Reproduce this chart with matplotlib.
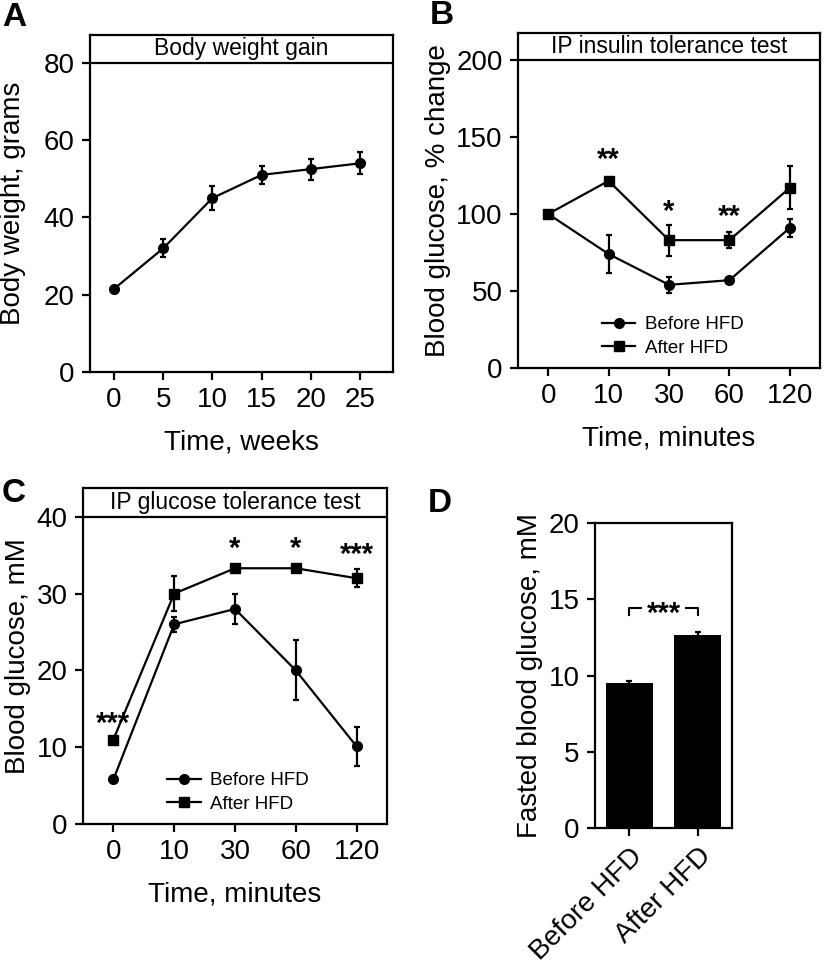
import matplotlib
matplotlib.use("Agg")
import matplotlib.pyplot as plt
import matplotlib.transforms as mtransforms
from matplotlib.lines import Line2D

plt.rcParams['font.family'] = ['Liberation Sans', 'DejaVu Sans']

# --- data ---
weeks = [0, 5, 10, 15, 20, 25]
body_weight = [21.5, 32.0, 45.0, 51.0, 52.5, 54.0]
body_weight_err = [0.0, 2.3, 3.0, 2.3, 2.7, 2.8]

itt_times = ["0", "10", "30", "60", "120"]
itt_before = [100, 74, 54, 57, 91]
itt_before_err = [0, 12.5, 5, 1, 6]
itt_after = [100, 121.5, 83, 83, 117]
itt_after_err = [0, 1, 10, 5, 14]
itt_stars = ["", "**", "*", "**", ""]
itt_star_y = [0, 135, 101, 98, 0]

gtt_times = ["0", "10", "30", "60", "120"]
gtt_before = [5.8, 26.0, 28.0, 20.0, 10.1]
gtt_before_err = [0, 1.0, 1.9, 3.9, 2.5]
gtt_after = [11.0, 30.0, 33.3, 33.3, 32.0]
gtt_after_err = [0, 2.3, 0, 0, 1.2]
gtt_stars = ["***", "", "*", "*", "***"]
gtt_star_y = [13.0, 0, 35.8, 35.8, 35.0]

groups = ["Before HFD", "After HFD"]
fasted = [9.5, 12.65]
fasted_err = [0.15, 0.2]

W, H = 825, 968
fig = plt.figure(figsize=(W / 100, H / 100), dpi=100)

TICK = 20
LW = 1.6


def make_axes(l, r, t, b):
    ax = fig.add_axes([l / W, 1 - b / H, (r - l) / W, (b - t) / H])
    for s in ax.spines.values():
        s.set_linewidth(LW)
    ax.tick_params(direction='out', length=6, width=LW, labelsize=TICK, pad=5)
    return ax


def header(ax, y0, text):
    ax.axhline(y0, color='black', lw=LW)
    ytop = ax.get_ylim()[1]
    trans = mtransforms.blended_transform_factory(ax.transAxes, ax.transData)
    ax.text(0.5, (y0 + ytop) / 2, text, transform=trans, ha='center',
            va='center', fontsize=16.5)


def legend(ax, anchor):
    handles = [Line2D([], [], color='black', lw=1.6, marker='o', ms=7),
               Line2D([], [], color='black', lw=1.6, marker='s', ms=7.5)]
    ax.legend(handles, ["Before HFD", "After HFD"], loc='lower left',
              bbox_to_anchor=anchor, frameon=False, fontsize=13.5,
              handlelength=1.8, handletextpad=0.5, labelspacing=0.35,
              borderaxespad=0.2)


# Panel A
axA = make_axes(90, 393, 35, 372)
axA.errorbar(weeks, body_weight, yerr=body_weight_err, color='black', lw=1.6,
             marker='o', ms=7, capsize=2.5, elinewidth=1.6, capthick=1.6)
axA.set_xlim(-2.44, 28.35)
axA.set_ylim(0, 87.2)
axA.set_xticks(weeks)
axA.set_yticks([0, 20, 40, 60, 80])
axA.set_xlabel("Time, weeks", fontsize=TICK, labelpad=12)
axA.set_ylabel("Body weight, grams", fontsize=TICK, labelpad=13)
header(axA, 80, "Body weight gain")


def tolerance(ax, cats, before, be, after, ae, stars, star_y):
    x = list(range(len(cats)))
    ax.errorbar(x, before, yerr=be, color='black', lw=1.6, marker='o', ms=7,
                capsize=2.5, elinewidth=1.6, capthick=1.6)
    ax.errorbar(x, after, yerr=ae, color='black', lw=1.6, marker='s', ms=7.5,
                capsize=2.5, elinewidth=1.6, capthick=1.6)
    for xi, s, yy in zip(x, stars, star_y):
        if s:
            ax.text(xi, yy, s, ha='center', va='center', fontsize=21,
                    fontweight='bold')
    ax.set_xlim(-0.5, 4.5)
    ax.set_xticks(x)
    ax.set_xticklabels(cats)
    ax.set_xlabel("Time, minutes", fontsize=TICK, labelpad=12)


# Panel B
axB = make_axes(518, 820, 33, 368)
tolerance(axB, itt_times, itt_before, itt_before_err, itt_after, itt_after_err,
          itt_stars, itt_star_y)
axB.set_ylim(0, 217.5)
axB.set_yticks([0, 50, 100, 150, 200])
axB.set_ylabel("Blood glucose, % change", fontsize=TICK, labelpad=4)
header(axB, 200, "IP insulin tolerance test")
legend(axB, (0.24, 0.0))

# Panel C
axC = make_axes(83, 387, 488, 824)
tolerance(axC, gtt_times, gtt_before, gtt_before_err, gtt_after, gtt_after_err,
          gtt_stars, gtt_star_y)
axC.set_ylim(0, 43.75)
axC.set_yticks([0, 10, 20, 30, 40])
axC.set_ylabel("Blood glucose, mM", fontsize=TICK, labelpad=4)
header(axC, 40, "IP glucose tolerance test")
legend(axC, (0.24, 0.0))

# Panel D
axD = make_axes(595, 732, 523, 828)
xs = range(len(groups))
axD.bar(xs, fasted, width=0.68, color='black', yerr=fasted_err,
        error_kw=dict(ecolor='black', elinewidth=1.6, capsize=2.5, capthick=1.6))
axD.set_xlim(-0.5, 1.5)
axD.set_ylim(0, 20)
axD.set_yticks([0, 5, 10, 15, 20])
axD.set_xticks(list(xs))
axD.set_xticklabels(groups, rotation=45, ha='right', rotation_mode='anchor')
axD.set_ylabel("Fasted blood glucose, mM", fontsize=TICK, labelpad=4)
by = 14.4
axD.plot([0, 0, 0.17], [13.95, by, by], color='black', lw=1.5)
axD.plot([0.83, 1, 1], [by, by, 13.95], color='black', lw=1.5)
axD.text(0.5, by - 0.35, "***", ha='center', va='center', fontsize=21,
         fontweight='bold')

# panel letters
for lab, px, py in [("A", 2, 18), ("B", 430, 16), ("C", 2, 494), ("D", 428, 504)]:
    fig.text(px / W, 1 - py / H, lab, fontsize=24, fontweight='bold',
             ha='left', va='center')

fig.savefig("out.png", dpi=100)
